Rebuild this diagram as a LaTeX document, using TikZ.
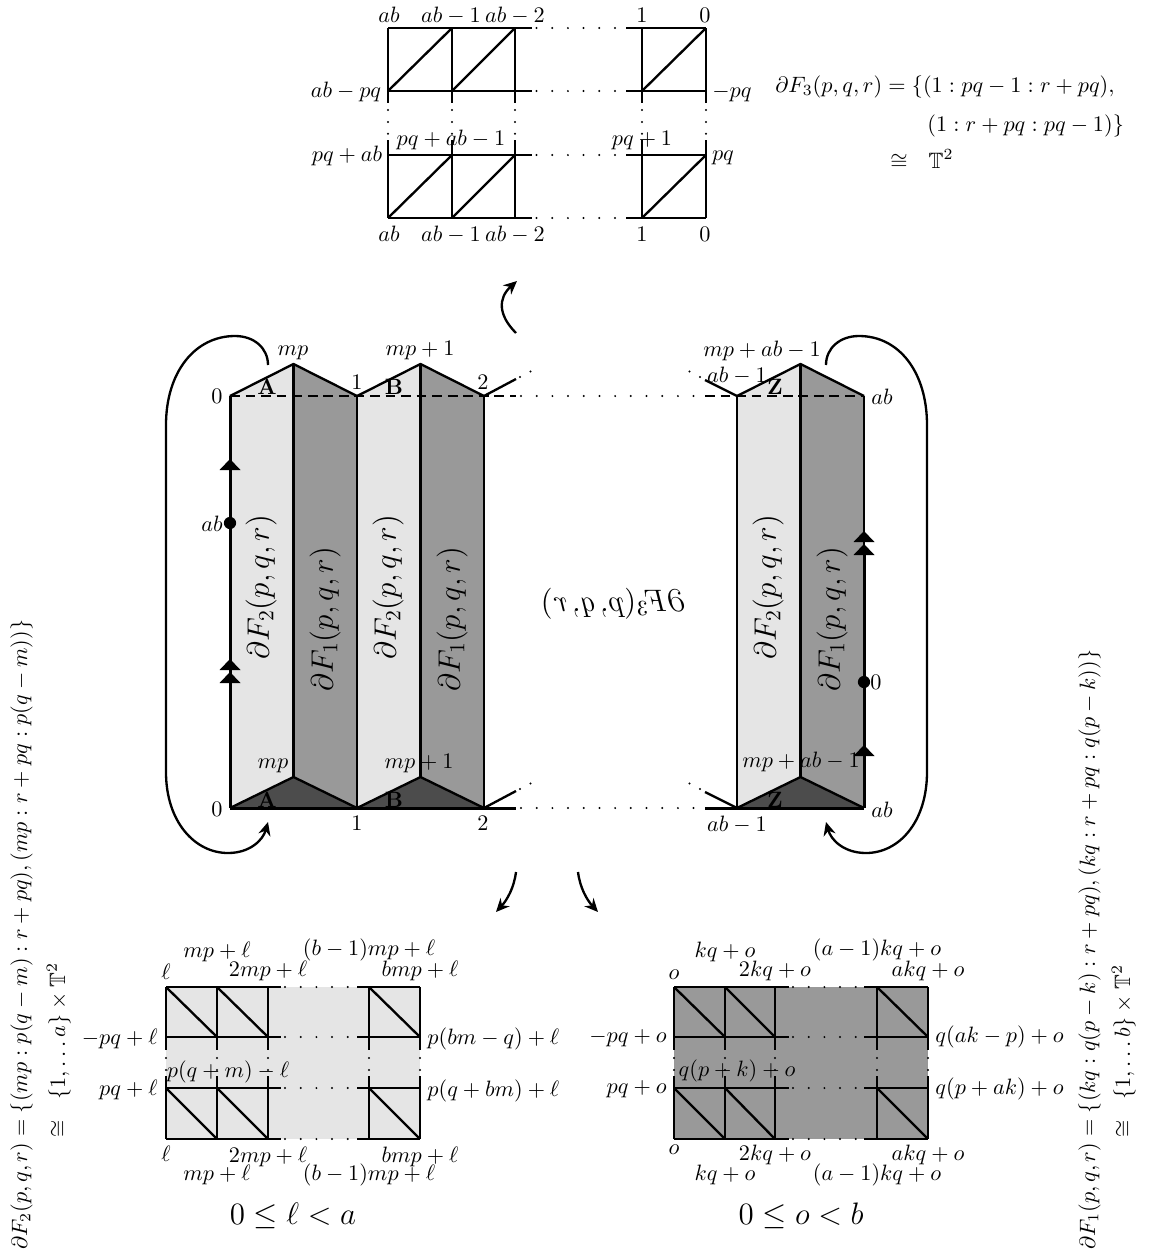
\documentclass[tikz,border=0pt]{standalone}
\usepackage{amssymb}
\usetikzlibrary{arrows.meta}
\definecolor{lightface}{gray}{0.9}
\definecolor{midface}{gray}{0.6}
\definecolor{darkface}{gray}{0.3}
\tikzset{
  edge/.style={line width=1.05pt},
  heavy/.style={line width=1.35pt},
  dotsh/.style={line width=1pt,line cap=round,dash pattern=on 0pt off 7.06pt},
  dotsv/.style={line width=1pt,line cap=round,dash pattern=on 0pt off 5.35pt},
  longdash/.style={line width=1.05pt,dash pattern=on 4.4pt off 2.6pt},
  curved/.style={line width=1.05pt,-{Stealth[length=6pt,width=5.5pt]}},
  lab/.style={inner sep=0pt,anchor=base},
  labe/.style={inner sep=0pt,anchor=base east},
  labw/.style={inner sep=0pt,anchor=base west},
  sidetext/.style={inner sep=0pt,anchor=base west,rotate=90},
  facetext/.style={inner sep=0pt,rotate=90,font=\Large,scale=0.97},
  uptip/.pic={\fill[black] (-10.5,0) -- (0,-11) -- (10.5,0) -- cycle;},
  dotmark/.style={circle,fill=black,inner sep=0pt,minimum size=5.5pt}
}
\begin{document}
\begin{tikzpicture}[x=0.45pt,y=-0.45pt]
\useasboundingbox (0,0) rectangle (1148,1255);

% ---------- top grid
\foreach \y in {28,91,155,218}{
  \draw[edge] (388,\y) -- (532,\y);
  \draw[edge] (626,\y) -- (706,\y);
  \draw[dotsh] (536.5,\y) -- (622,\y);
}
\foreach \x in {388,452,515,642,706}{
  \draw[edge] (\x,28) -- (\x,103);
  \draw[edge] (\x,140) -- (\x,218);
  \draw[dotsv] (\x,110) -- (\x,136);
}
\foreach \a/\b in {388/452,452/515,642/706}{
  \draw[edge] (\a,91) -- (\b,28);
  \draw[edge] (\a,218) -- (\b,155);
}
\node[lab] (t1) at (389,22) {$ab$};
\node[lab] (t2) at (451,22) {$ab-1$};
\node[lab] (t3) at (515,22) {$ab-2$};
\node[lab] (t4) at (642,22) {$1$};
\node[lab] (t5) at (705,22) {$0$};
\node[lab] (t6) at (346,97) {$ab-pq$};
\node[lab] (t7) at (732,97) {$-pq$};
\node[lab] (t8) at (347,161) {$pq+ab$};
\node[lab] (t9) at (451,145) {$pq+ab-1$};
\node[lab] (t10) at (642,145) {$pq+1$};
\node[lab] (t11) at (723,160) {$pq$};
\node[lab] (t12) at (389,241) {$ab$};
\node[lab] (t13) at (451,241) {$ab-1$};
\node[lab] (t14) at (515,241) {$ab-2$};
\node[lab] (t15) at (642,241) {$1$};
\node[lab] (t16) at (705,241) {$0$};

\node[labw] (f1) at (775,92) {$\partial F_3(p,q,r)=\{(1:pq-1:r+pq),$};
\node[labw] (f2) at (927,131) {$(1:r+pq:pq-1)\}$};
\node[labw] (f3) at (890,168) {$\cong\ \ \mathbb{T}^2$};

% ---------- curved arrows between the pictures
\coordinate (up1) at (516,333);
\coordinate (up2) at (517,281);
\draw[curved] (up1) .. controls (498,315) and (498,298) .. (up2);
\coordinate (dl1) at (516,872);
\coordinate (dl2) at (496,912);
\draw[curved] (dl1) .. controls (514,888) and (507,900) .. (dl2);
\coordinate (dr1) at (578,872);
\coordinate (dr2) at (598,912);
\draw[curved] (dr1) .. controls (580,888) and (587,900) .. (dr2);

% ---------- prisms
\foreach \x in {230,357,737}{
  \pgfmathsetmacro{\xm}{\x+63.5}
  \pgfmathsetmacro{\xr}{\x+127}
  \fill[lightface] (\x,396) -- (\xm,364) -- (\xm,777) -- (\x,808) -- cycle;
  \fill[midface] (\xm,364) -- (\xr,396) -- (\xr,808) -- (\xm,777) -- cycle;
  \fill[darkface] (\x,808) -- (\xm,777) -- (\xr,808) -- cycle;
  \draw[edge,line join=round] (\x,396) -- (\xm,364) -- (\xr,396);
  \draw[edge,line join=round] (\x,808) -- (\xm,777) -- (\xr,808);
  \draw[edge] (\xm,364) -- (\xm,777);
  \draw[edge] (\x,396) -- (\x,808);
  \draw[edge] (\xr,396) -- (\xr,808);
}
\draw[longdash] (230,396) -- (516,396);
\draw[longdash] (705,396) -- (864,396);
\draw[dotsh] (521,396) -- (702,396);
\draw[heavy] (230,808) -- (516,808);
\draw[heavy] (705,808) -- (864,808);
\draw[dotsh] (521,808) -- (702,808);
% loose ends of the strip
\draw[edge] (484,396) -- (516,379);
\draw[edge] (484,808) -- (516,791);
\draw[edge] (737,396) -- (705,380);
\draw[edge] (737,808) -- (705,792);
\draw[dotsv] (520,377) -- (541,366);
\draw[dotsv] (520,789) -- (541,778);
\draw[dotsv] (700,377) -- (679,366);
\draw[dotsv] (700,789) -- (679,778);

% glued edges
\draw[heavy] (230,808) -- (230,396);
\draw[heavy] (864,808) -- (864,555);
\pic at (230,470) {uptip};
\pic at (230,670) {uptip};
\pic at (230,683) {uptip};
\pic at (864,542) {uptip};
\pic at (864,555) {uptip};
\pic at (864,756) {uptip};
\node[dotmark] (d1) at (230,523) {};
\node[dotmark] (d2) at (864,682) {};

% gluing loops
\coordinate (la) at (268,365);
\coordinate (lb) at (268,822);
\coordinate (ra) at (826,365);
\coordinate (rb) at (826,822);
\draw[curved] (la) .. controls (268,348) and (254,336) .. (235,336)
  .. controls (195,336) and (166,372) .. (166,425) -- (166,772)
  .. controls (166,822) and (195,853) .. (228,853)
  .. controls (250,853) and (263,840) .. (lb);
\draw[curved] (ra) .. controls (826,348) and (840,336) .. (859,336)
  .. controls (899,336) and (927,372) .. (927,425) -- (927,772)
  .. controls (927,822) and (899,853) .. (866,853)
  .. controls (844,853) and (831,840) .. (rb);

% face labels
\node[facetext] (a1) at (261,587) {$\partial F_2(p,q,r)$};
\node[facetext] (a2) at (325,619) {$\partial F_1(p,q,r)$};
\node[facetext] (a3) at (388,587) {$\partial F_2(p,q,r)$};
\node[facetext] (a4) at (452,619) {$\partial F_1(p,q,r)$};
\node[facetext] (a5) at (768,587) {$\partial F_2(p,q,r)$};
\node[facetext] (a6) at (832,619) {$\partial F_1(p,q,r)$};
\node[lab,font=\Large,scale=0.97] (a7) at (613,611) {\reflectbox{$\partial F_3(p,q,r)$}};

\node[lab] (m1) at (293,355) {$mp$};
\node[lab] (m2) at (420,355) {$mp+1$};
\node[lab] (m3) at (217,403) {$0$};
\node[lab] (m4) at (357,389) {$1$};
\node[lab] (m5) at (483,389) {$2$};
\node[lab] (m6) at (267,394) {$\mathbf{A}$};
\node[lab] (m7) at (394,394) {$\mathbf{B}$};
\node[lab] (m8) at (775,394) {$\mathbf{Z}$};
\node[lab] (m9) at (212,531) {$ab$};
\node[lab] (m10) at (762,356) {$mp+ab-1$};
\node[lab] (m11) at (737,382) {$ab-1$};
\node[lab] (m12) at (882,404) {$ab$};
\node[lab] (m13) at (217,816) {$0$};
\node[lab] (m14) at (357,830) {$1$};
\node[lab] (m15) at (483,830) {$2$};
\node[lab] (m16) at (273,768) {$mp$};
\node[lab] (m17) at (419,768) {$mp+1$};
\node[lab] (m18) at (267,807) {$\mathbf{A}$};
\node[lab] (m19) at (394,807) {$\mathbf{B}$};
\node[lab] (m20) at (775,807) {$\mathbf{Z}$};
\node[lab] (m21) at (737,831) {$ab-1$};
\node[lab] (m22) at (882,817) {$ab$};
\node[lab] (m23) at (801,767) {$mp+ab-1$};
\node[lab] (m24) at (876,689) {$0$};

% ---------- bottom left grid
\fill[lightface] (166,987) rectangle (420,1139);
\foreach \y in {987,1037,1088,1139}{
  \draw[edge] (166,\y) -- (281,\y);
  \draw[edge] (357,\y) -- (420,\y);
  \draw[dotsh] (285,\y) -- (355,\y);
}
\foreach \x in {166,217,268,369,420}{
  \draw[edge] (\x,987) -- (\x,1050);
  \draw[edge] (\x,1076) -- (\x,1139);
  \draw[dotsv] (\x,1058) -- (\x,1072);
}
\foreach \a/\b in {166/217,217/268,369/420}{
  \draw[edge] (\a,987) -- (\b,1037);
  \draw[edge] (\a,1088) -- (\b,1139);
}
\node[lab] (b1) at (217,957) {$mp+\ell$};
\node[lab] (b2) at (369,955) {$(b-1)mp+\ell$};
\node[lab] (b3) at (166,979) {$\ell$};
\node[lab] (b4) at (268,976) {$2mp+\ell$};
\node[lab] (b5) at (420,976) {$bmp+\ell$};
\node[labe] (b6) at (158,1044) {$-pq+\ell$};
\node[labe] (b7) at (158,1095) {$pq+\ell$};
\node[lab] (b8) at (228,1077) {$p(q+m)-\ell$};
\node[labw] (b9) at (427,1044) {$p(bm-q)+\ell$};
\node[labw] (b10) at (427,1096) {$p(q+bm)+\ell$};
\node[lab] (b11) at (166,1161) {$\ell$};
\node[lab] (b12) at (268,1162) {$2mp+\ell$};
\node[lab] (b13) at (420,1162) {$bmp+\ell$};
\node[lab] (b14) at (217,1180) {$mp+\ell$};
\node[lab] (b15) at (369,1180) {$(b-1)mp+\ell$};
\node[lab,font=\Large,scale=0.97] (b16) at (293,1224) {$0\leq\ell<a$};

% ---------- bottom right grid
\fill[midface] (674,987) rectangle (928,1139);
\foreach \y in {987,1037,1088,1139}{
  \draw[edge] (674,\y) -- (789,\y);
  \draw[edge] (864,\y) -- (928,\y);
  \draw[dotsh] (793,\y) -- (862,\y);
}
\foreach \x in {674,725,775,877,928}{
  \draw[edge] (\x,987) -- (\x,1050);
  \draw[edge] (\x,1076) -- (\x,1139);
  \draw[dotsv] (\x,1058) -- (\x,1072);
}
\foreach \a/\b in {674/725,725/775,877/928}{
  \draw[edge] (\a,987) -- (\b,1037);
  \draw[edge] (\a,1088) -- (\b,1139);
}
\node[lab] (c1) at (725,957) {$kq+o$};
\node[lab] (c2) at (877,955) {$(a-1)kq+o$};
\node[lab] (c3) at (674,979) {$o$};
\node[lab] (c4) at (775,976) {$2kq+o$};
\node[lab] (c5) at (928,976) {$akq+o$};
\node[labe] (c6) at (667,1042) {$-pq+o$};
\node[labe] (c7) at (667,1093) {$pq+o$};
\node[lab] (c8) at (737,1076) {$q(p+k)+o$};
\node[labw] (c9) at (935,1042) {$q(ak-p)+o$};
\node[labw] (c10) at (935,1094) {$q(p+ak)+o$};
\node[lab] (c11) at (674,1154) {$o$};
\node[lab] (c12) at (775,1160) {$2kq+o$};
\node[lab] (c13) at (928,1160) {$akq+o$};
\node[lab] (c14) at (725,1180) {$kq+o$};
\node[lab] (c15) at (877,1180) {$(a-1)kq+o$};
\node[lab,font=\Large,scale=0.97] (c16) at (801,1224) {$0\leq o<b$};

% ---------- side formulas
\node[sidetext] (s1) at (27,1250) {$\partial F_2(p,q,r)=\{(mp:p(q-m):r+pq),(mp:r+pq:p(q-m))\}$};
\node[sidetext] (s2) at (65,1138) {$\cong\ \ \{1,\dots a\}\times\mathbb{T}^2$};
\node[sidetext] (s3) at (1095,1250) {$\partial F_1(p,q,r)=\{(kq:q(p-k):r+pq),(kq:r+pq:q(p-k))\}$};
\node[sidetext] (s4) at (1130,1138) {$\cong\ \ \{1,\dots b\}\times\mathbb{T}^2$};
\end{tikzpicture}
\end{document}
